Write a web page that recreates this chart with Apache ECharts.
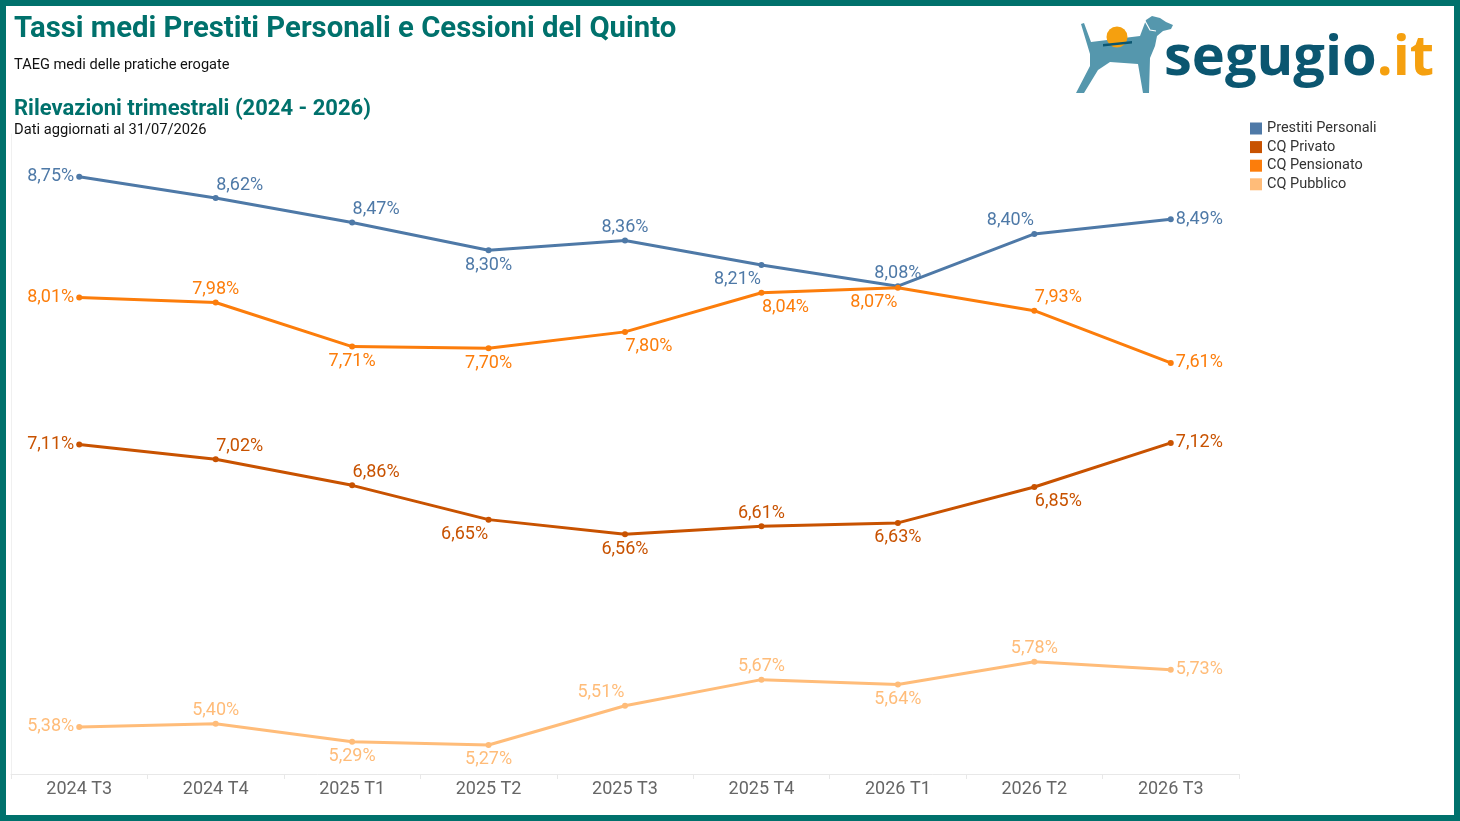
<!DOCTYPE html>
<html>
<head>
<meta charset="utf-8">
<script src="https://cdn.jsdelivr.net/npm/echarts@6/dist/echarts.min.js"></script>
<style>
html,body{margin:0;padding:0;background:#fff;}
#chart{width:1460px;height:821px;}
</style>
</head>
<body>
<div id="chart"></div>
<script>
const categories = ['2024 T3','2024 T4','2025 T1','2025 T2','2025 T3','2025 T4','2026 T1','2026 T2','2026 T3'];
const prestitiPersonali = [8.75, 8.62, 8.47, 8.30, 8.36, 8.21, 8.08, 8.40, 8.49];
const cqPrivato = [7.11, 7.02, 6.86, 6.65, 6.56, 6.61, 6.63, 6.85, 7.12];
const cqPensionato = [8.01, 7.98, 7.71, 7.70, 7.80, 8.04, 8.07, 7.93, 7.61];
const cqPubblico = [5.38, 5.40, 5.29, 5.27, 5.51, 5.67, 5.64, 5.78, 5.73];

// label placement per point (style, not data)
const posPrestiti  = ['L','T+','T+','B','T','B-','T','T-','R'];
const posPrivato   = ['L','T+','T+','B-','B','T','B','B+','R'];
const posPensionato= ['L','T','B','B','B+','B+','B-','T+','R'];
const posPubblico  = ['L','T','B','B','T-','T','B','T','R'];

const FONT = 'Roboto';
const fmt = v => v.toFixed(2).replace('.', ',') + '%';

function buildData(vals, pos) {
  return vals.map((v, i) => {
    const p = pos[i];
    const map = {L:'left', R:'right', T:'top', B:'bottom'};
    const position = map[p[0]];
    let dx = 0;
    if (p[1] === '+') dx = 24;
    if (p[1] === '-') dx = -24;
    const side = position === 'left' || position === 'right';
    return {
      value: v,
      label: {
        position: position,
        offset: [dx, position === 'top' ? 2 : 0],
        distance: side ? 2 : 3
      }
    };
  });
}

function mkSeries(name, vals, pos, color) {
  return {
    name: name,
    type: 'line',
    data: buildData(vals, pos),
    symbol: 'circle',
    symbolSize: 6,
    lineStyle: {width: 3, color: color},
    itemStyle: {color: color},
    label: {
      show: true,
      color: color,
      fontFamily: FONT,
      fontSize: 18,
      formatter: p => fmt(p.value)
    },
    emphasis: {disabled: true},
    animation: false
  };
}

const chart = echarts.init(document.getElementById('chart'));
const teal = '#00716c';
chart.setOption({
  backgroundColor: '#fff',
  animation: false,
  textStyle: {fontFamily: FONT},
  grid: {left: 11, right: 221, top: 134, bottom: 47},
  legend: {
    orient: 'vertical',
    left: 1250,
    top: 121,
    padding: 0,
    itemWidth: 12,
    itemHeight: 12,
    itemGap: 3.6,
    icon: 'rect',
    textStyle: {fontFamily: FONT, fontSize: 14.5, color: '#333'},
    data: ['Prestiti Personali','CQ Privato','CQ Pensionato','CQ Pubblico']
  },
  xAxis: {
    type: 'category',
    data: categories,
    boundaryGap: true,
    axisLine: {lineStyle: {color: '#e8e8e8', width: 1}},
    axisTick: {show: true, length: 5, lineStyle: {color: '#e8e8e8'}},
    axisLabel: {color: '#666', fontSize: 18, fontFamily: FONT, margin: 6},
    splitLine: {show: false}
  },
  yAxis: {
    type: 'value',
    min: 5.092,
    max: 9.012,
    axisLine: {show: true, lineStyle: {color: '#f0f0f0'}},
    axisTick: {show: false},
    axisLabel: {show: false},
    splitLine: {show: false}
  },
  series: [
    mkSeries('Prestiti Personali', prestitiPersonali, posPrestiti, '#4e79a7'),
    mkSeries('CQ Privato', cqPrivato, posPrivato, '#c85200'),
    mkSeries('CQ Pensionato', cqPensionato, posPensionato, '#fc7d0b'),
    mkSeries('CQ Pubblico', cqPubblico, posPubblico, '#ffbc79')
  ],
  graphic: [
    {type:'rect', silent:true, shape:{x:3, y:3, width:1454, height:815}, style:{fill:'none', stroke:teal, lineWidth:6}, z:100},
    {type:'text', left:14, top:15, style:{text:'Tassi medi Prestiti Personali e Cessioni del Quinto', fill:teal, font:'bold 29.3px Roboto'}},
    {type:'text', left:14, top:58, style:{text:'TAEG medi delle pratiche erogate', fill:'#111', font:'14.6px Roboto'}},
    {type:'text', left:14, top:98, style:{text:'Rilevazioni trimestrali (2024 - 2026)', fill:teal, font:'bold 22px Roboto'}},
    {type:'text', left:14, top:123, style:{text:'Dati aggiornati al 31/07/2026', fill:'#111', font:'14.7px Roboto'}},
    // logo dog
    {type:'polygon', shape:{points:[[1081,24],[1084,23],[1091,42],[1140,36],[1146,20],[1152,16],[1160,18],[1166,22],[1173,25],[1171,29],[1163,31],[1157,36],[1155,46],[1150,58],[1149,93],[1143,93],[1138,64],[1110,62],[1098,70],[1084,93],[1076,93],[1090,66],[1090,54],[1087,44]]}, style:{fill:'#5597ad'}},
    {type:'polyline', shape:{points:[[1145,21],[1150,30],[1156,31]]}, style:{stroke:'#ffffff', lineWidth:1.2, fill:'none'}},
    {type:'circle', shape:{cx:1117, cy:37, r:10.5}, style:{fill:'#f5a00f'}},
    {type:'polygon', shape:{points:[[1103,44],[1132,41],[1132,43.5],[1103,46.5]]}, style:{fill:'#0b5670'}},
    {type:'text', left:1164, top:31, style:{rich:{a:{fill:'#0b5670', font:'bold 56px "Open Sans"'}, b:{fill:'#f5a00f', font:'bold 56px "Open Sans"'}}, text:'{a|segugio}{b|.it}'}}
  ]
});
</script>
</body>
</html>
